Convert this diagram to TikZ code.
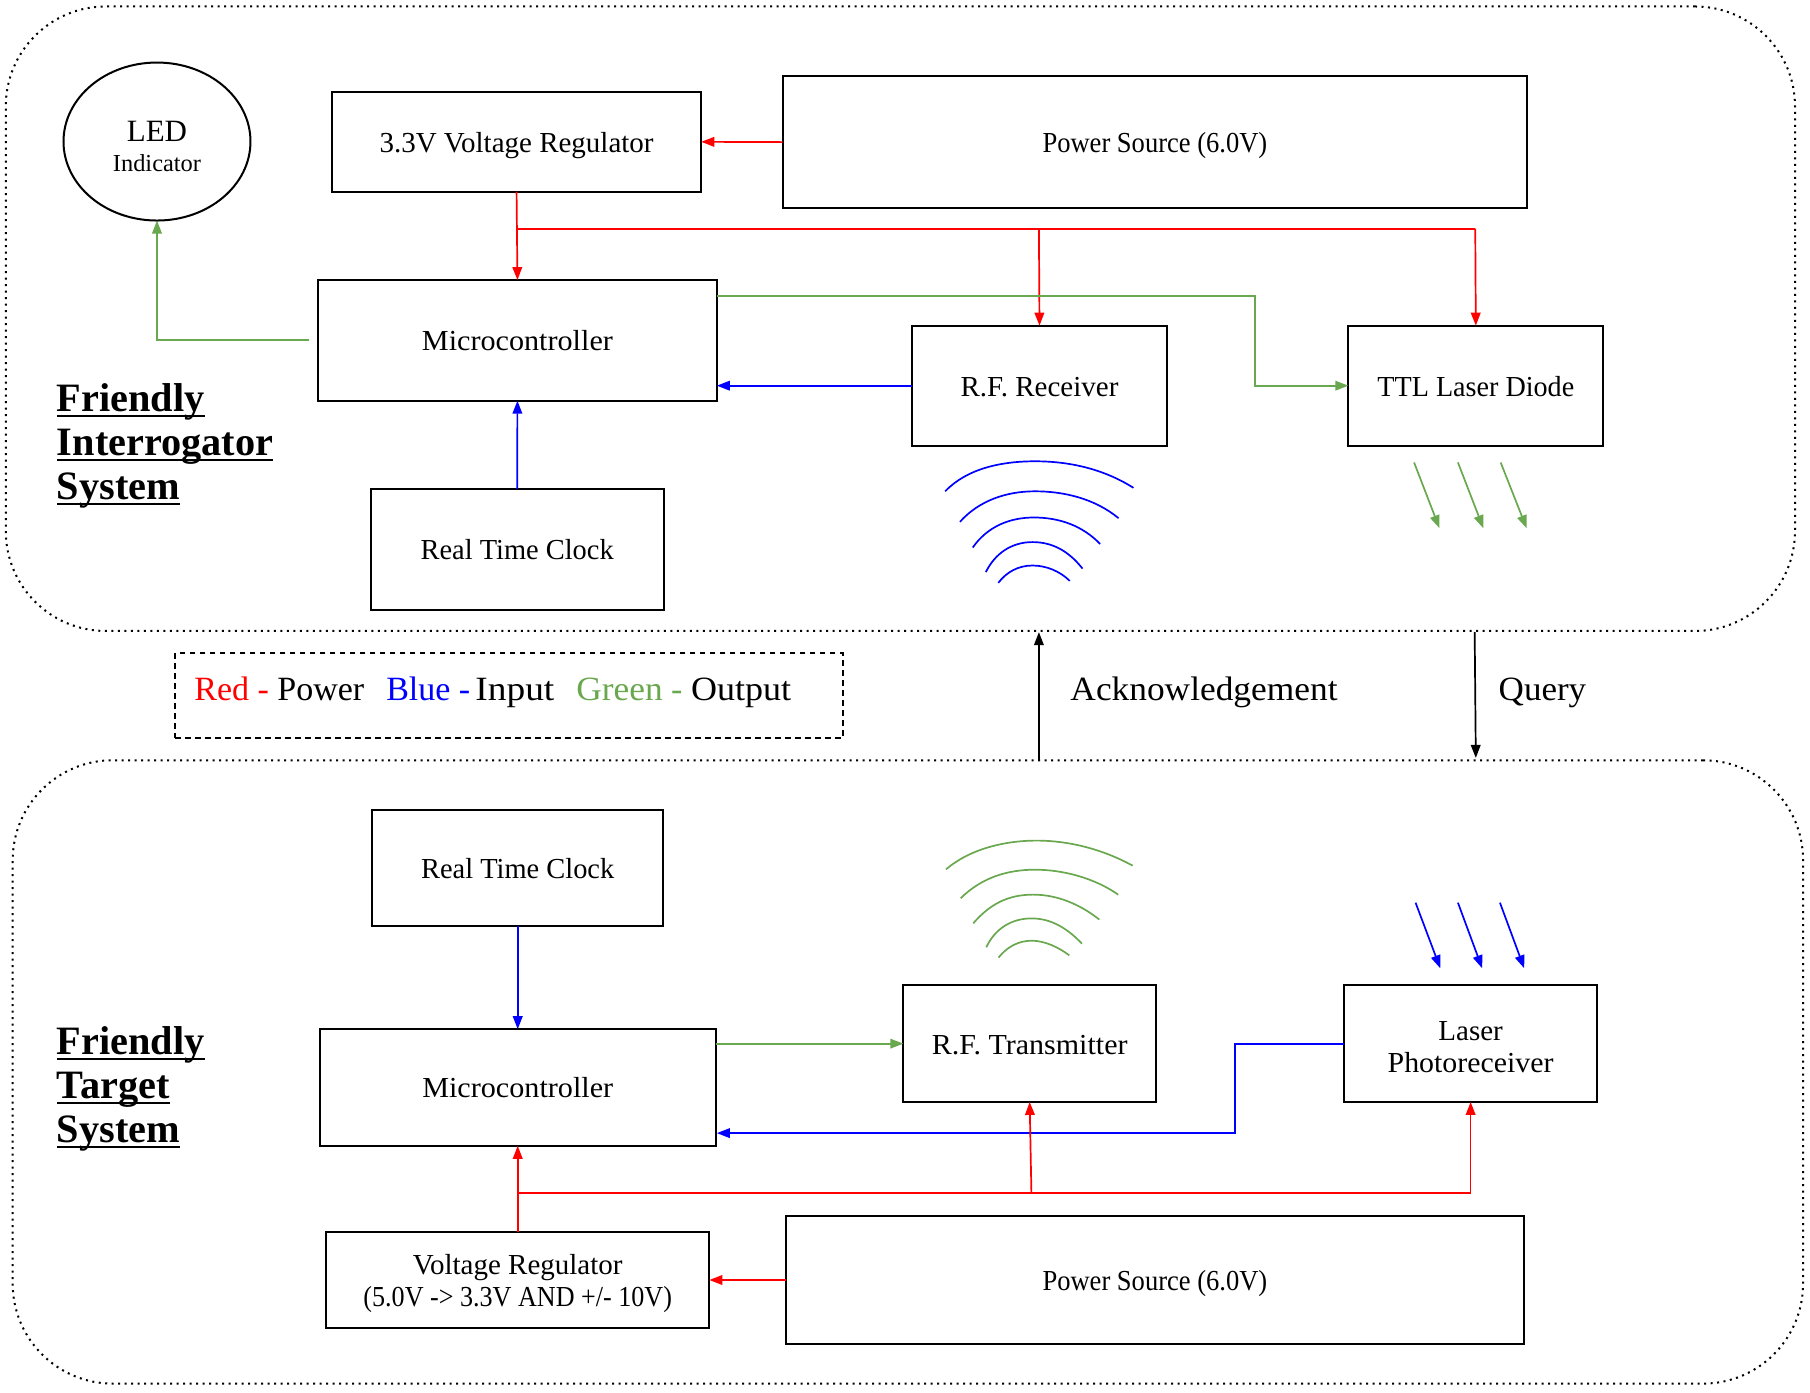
\documentclass[tikz,border=0pt]{standalone}
\usepackage{fontspec}
\usepackage{graphicx}
\setmainfont{Liberation Serif}
\newsavebox{\ulnbox}
\newcommand{\uln}[1]{\sbox{\ulnbox}{#1}\rlap{\usebox{\ulnbox}}\rule[-2.6pt]{\wd\ulnbox}{1pt}}
\newcommand{\wdx}[2]{\scalebox{#1}[1]{#2}}
\usetikzlibrary{arrows.meta,shapes.geometric}
\definecolor{cred}{HTML}{FF0000}
\definecolor{cblue}{HTML}{0000FF}
\definecolor{cgreen}{HTML}{6AA84F}
\tikzset{
  boxy/.style={draw=black,line width=1pt,inner sep=0pt,outer sep=0pt,align=center,font=\fontsize{14.5}{16}\selectfont},
  oneline/.style={text height=10.4pt,text depth=0pt},
  zone/.style={draw=black,line width=1pt,inner sep=0pt,outer sep=0pt,rounded corners=50pt,dash pattern=on 1pt off 2.25pt},
  legendbox/.style={draw=black,line width=1pt,inner sep=0pt,outer sep=0pt,dash pattern=on 2.8pt off 2.2pt},
  lnk/.style={line width=0.85pt,-{Triangle[length=6.5pt,width=4.8pt]}},
  rd/.style={lnk,draw=cred},
  bl/.style={lnk,draw=cblue},
  gr/.style={lnk,draw=cgreen},
  bk/.style={lnk,draw=black},
  wave/.style={line width=0.85pt},
  biglabel/.style={inner sep=0pt,font=\fontsize{17}{20}\selectfont,anchor=base west},
  head/.style={inner sep=0pt,anchor=west,align=left,font=\fontsize{20.15}{22}\selectfont\bfseries},
}
% name, x1, y1, x2, y2, extra style, text
\newcommand{\boxat}[7]{\node[boxy,#6,minimum width={(#4-#2)*0.5772pt},minimum height={(#5-#3)*0.5772pt}] (#1) at ({(#2+#4)/2},{(#3+#5)/2}) {#7};}
\begin{document}
\begin{tikzpicture}[x=0.5772pt,y=-0.5772pt]
\useasboundingbox (0,-0.6) rectangle (1568,1205.4);
% zones
\node[zone,minimum width={1550*0.5772pt},minimum height={541*0.5772pt}] (zoneA) at (780,275.5) {};
\node[zone,minimum width={1551*0.5772pt},minimum height={540*0.5772pt}] (zoneB) at (786.5,928) {};
% upper system
\boxat{reg}{287.5}{79}{607.5}{165.5}{oneline}{3.3V Voltage Regulator}
\boxat{pwrA}{678}{65}{1323}{180}{oneline}{\wdx{0.915}{Power Source (6.0V)}}
\node[ellipse,draw=black,line width=1pt,inner sep=0pt,outer sep=0pt,minimum width=93.5pt,minimum height=79pt,align=center] (led) at (136,122)
  {\rule{0pt}{15pt}\fontsize{15.5}{17}\selectfont LED\\[3pt]\fontsize{12.2}{14}\selectfont Indicator};
\boxat{mcuA}{275.5}{242}{621}{346.5}{oneline}{\wdx{1.04}{Microcontroller}}
\boxat{rx}{790}{281.5}{1011}{385.5}{oneline}{R.F. Receiver}
\boxat{ttl}{1168}{281.5}{1389}{385.5}{oneline}{\wdx{0.97}{TTL Laser Diode}}
\boxat{rtcA}{321}{423}{575}{527.5}{oneline}{\wdx{0.98}{Real Time Clock}}
\node[head] (headA) at (49,385.5) {\uln{Friendly}\\\uln{Interrogator}\\\uln{System}};
% lower system
\boxat{rtcB}{322.5}{701}{574.5}{802}{oneline}{\wdx{0.98}{Real Time Clock}}
\boxat{mcuB}{277}{891}{620}{992}{oneline}{\wdx{1.04}{Microcontroller}}
\boxat{tx}{782.5}{853}{1001.5}{954}{oneline}{\wdx{1.035}{R.F. Transmitter}}
\boxat{photo}{1164.5}{853}{1383.5}{954}{}{\rule{0pt}{12.5pt}Laser\\\wdx{1.03}{Photoreceiver}}
\boxat{vreg}{282.5}{1066.5}{614.5}{1150}{}{\rule{0pt}{14pt}Voltage Regulator\\\wdx{0.9}{(5.0V -> 3.3V AND +/- 10V)}}
\boxat{pwrB}{681}{1052.5}{1320}{1164}{oneline}{\wdx{0.915}{Power Source (6.0V)}}
\node[head] (headB) at (49,942.5) {\uln{Friendly}\\\uln{Target}\\\uln{System}};
% legend
\boxat{legend}{152}{565}{730}{639}{legendbox}{}
\node[biglabel] (legendtext) at (168,606.5) {\textcolor{cred}{Red -} \wdx{1.0}{Power}\hspace{11pt}\textcolor{cblue}{Blue -} \hspace{-1.7pt}\wdx{1.1}{Input}\hspace{11pt}\textcolor{cgreen}{\wdx{1.04}{Green} -} \wdx{1.06}{Output}};
\node[biglabel] (acklabel) at (927,606.5) {\wdx{1.04}{Acknowledgement}};
\node[biglabel] (qlabel) at (1298,606.5) {\wdx{1.03}{Query}};
% junctions
\coordinate (jA) at (448.5,197.5);
\coordinate (jB) at (900,197.5);
\coordinate (jC) at (1278,197.5);
\coordinate (gA) at (621,256);
\coordinate (gB) at (1087,256);
\coordinate (gC) at (1087,333.5);
\coordinate (gL) at (268,294);
\coordinate (gM) at (136,294);
\coordinate (jD) at (448.5,1033);
\coordinate (jE) at (893.5,1033);
\coordinate (jF) at (1274,1033);
\coordinate (bA) at (1070,903.5);
\coordinate (bB) at (1070,981);
\coordinate (bC) at (621,981);
\coordinate (gD) at (620,903.5);
\coordinate (ackA) at (900,657.5);
\coordinate (ackB) at (900,547);
\coordinate (qA) at (1277.5,547);
\coordinate (qB) at (1278.5,656);
% upper connectors
\draw[rd] (pwrA.west) -- (reg.east);
\draw[rd] (reg.south) -- (mcuA.north);
\draw[line width=0.85pt,draw=cred] (jA) -- (jC);
\draw[rd] (jB) -- (rx.north);
\draw[rd] (jC) -- (ttl.north);
\draw[gr] (gA) -- (gB) -- (gC) -- (ttl.west);
\draw[bl] (rx.west) -- (mcuA.east |- rx.west);
\draw[bl] (rtcA.north) -- (mcuA.south);
\draw[gr] (gL) -- (gM) -- (led.south);
% lower connectors
\draw[bl] (rtcB.south) -- (mcuB.north);
\draw[gr] (gD) -- (tx.west |- gD);
\draw[bl] (photo.west) -- (bA) -- (bB) -- (bC);
\draw[rd] (vreg.north) -- (mcuB.south);
\draw[rd] (jD) -- (jF) -- (photo.south);
\draw[rd] (jE) -- (tx.south);
\draw[rd] (pwrB.west) -- (vreg.east |- pwrB.west);
% between systems
\draw[bk] (ackA) -- (ackB);
\draw[bk] (qA) -- (qB);
% blue waves
\draw[wave,cblue] (818.8,425) .. controls (838,405) and (868,399) .. (896.6,399) .. controls (925,399) and (955,405) .. (981.9,422);
\draw[wave,cblue] (831.6,451.5) .. controls (848,433) and (872,425) .. (896.6,425) .. controls (921,425) and (948,431) .. (969,448.3);
\draw[wave,cblue] (842.7,473.7) .. controls (855,456) and (874,447.7) .. (895.7,447.7) .. controls (918,447.7) and (938,455) .. (953,470.6);
\draw[wave,cblue] (854,495) .. controls (862,479) and (876,469) .. (894.5,469) .. controls (912,469) and (926,477) .. (937.8,492);
\draw[wave,cblue] (864.8,504.3) .. controls (872,495) and (882,489.3) .. (894.5,489.3) .. controls (906,489.3) and (918,494) .. (926.7,502.6);
% green waves
\draw[wave,cgreen] (819.5,752.5) .. controls (840,735) and (870,727.6) .. (898,727.6) .. controls (926,727.6) and (955,735) .. (981.2,749.3);
\draw[wave,cgreen] (832.2,777.6) .. controls (850,760) and (872,752.8) .. (896.6,752.8) .. controls (921,752.8) and (948,760) .. (968.7,774.4);
\draw[wave,cgreen] (843.1,799.3) .. controls (858,782) and (874,774.4) .. (895,774.4) .. controls (916,774.4) and (936,783) .. (952.3,796);
\draw[wave,cgreen] (854.4,820) .. controls (862,804) and (876,795) .. (893.7,795) .. controls (911,795) and (925,804) .. (937.3,816.9);
\draw[wave,cgreen] (865,829) .. controls (872,820) and (882,814.3) .. (893.7,814.3) .. controls (905,814.3) and (917,820) .. (926.3,827);
% laser arrows, upper
\draw[gr] (1225,400) -- (1247,457);
\draw[gr] (1263,400) -- (1285,457);
\draw[gr] (1300,400) -- (1322.5,457);
% laser arrows, lower
\draw[bl] (1226.3,781.4) -- (1247.7,838.2);
\draw[bl] (1263,781.4) -- (1284,838.2);
\draw[bl] (1299.4,781.4) -- (1320.4,838.2);
\end{tikzpicture}
\end{document}
